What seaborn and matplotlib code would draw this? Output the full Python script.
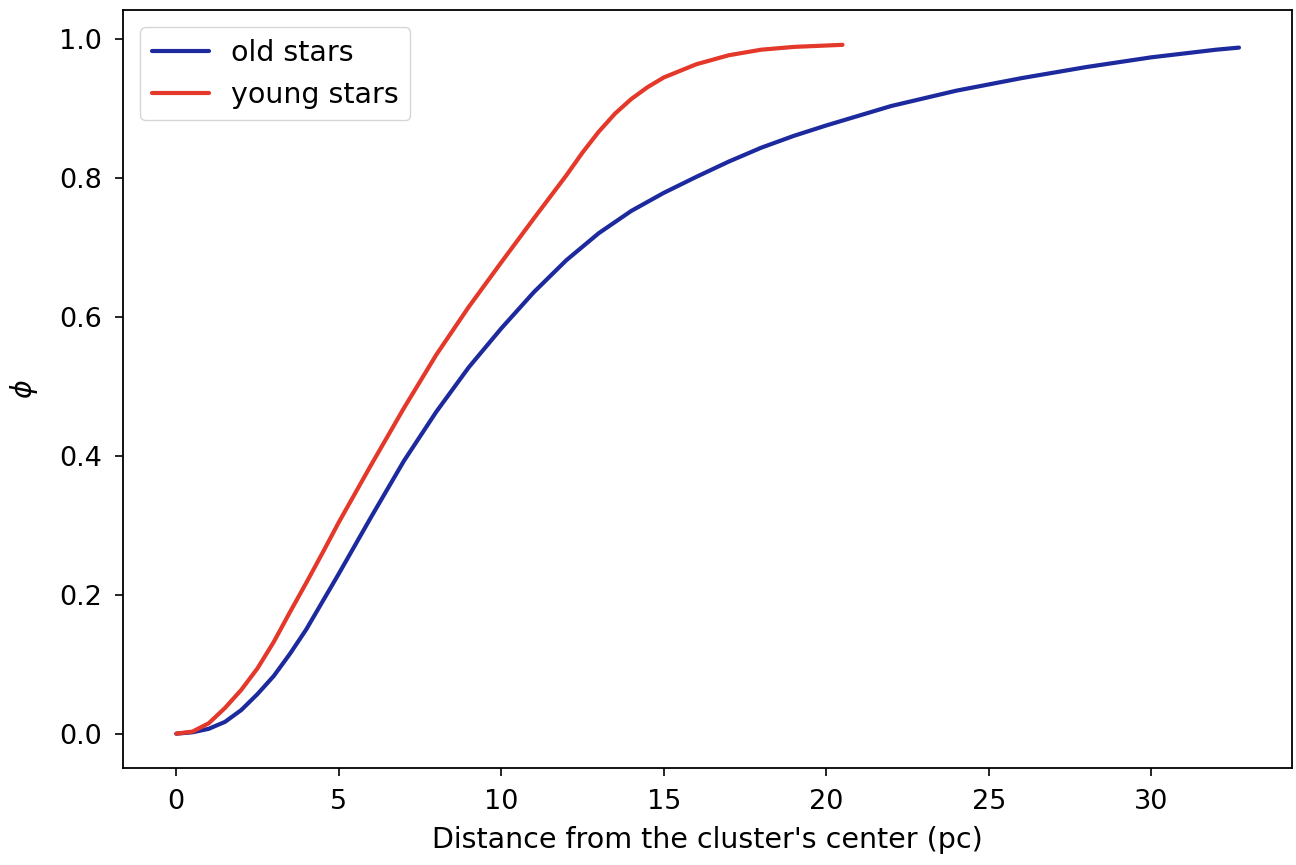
import numpy as np
import pandas as pd
import matplotlib
matplotlib.use("Agg")
import matplotlib.pyplot as plt
import seaborn as sns

# ================================
# data
# ================================
old_x = [0, 0.5, 1, 1.5, 2, 2.5, 3, 3.5, 4, 4.5, 5, 6, 7, 8, 9, 10, 11, 12, 13,
         14, 15, 16, 17, 18, 19, 20, 22, 24, 26, 28, 30, 32, 32.7]
old_phi = [0, 0.002, 0.007, 0.017, 0.034, 0.057, 0.083, 0.115, 0.15, 0.19, 0.23,
           0.312, 0.392, 0.463, 0.527, 0.583, 0.635, 0.681, 0.72, 0.752, 0.778, 0.801,
           0.823, 0.843, 0.86, 0.875, 0.903, 0.925, 0.943, 0.959, 0.973, 0.984, 0.987]

young_x = [0, 0.5, 1, 1.5, 2, 2.5, 3, 3.5, 4, 4.5, 5, 6, 7, 8, 9, 10, 11, 12, 12.5,
           13, 13.5, 14, 14.5, 15, 16, 17, 18, 19, 20, 20.5]
young_phi = [0, 0.003, 0.015, 0.037, 0.063, 0.094, 0.132, 0.175, 0.217, 0.26, 0.304,
             0.387, 0.468, 0.545, 0.614, 0.678, 0.741, 0.803, 0.836, 0.866, 0.892, 0.913,
             0.93, 0.944, 0.963, 0.976, 0.984, 0.988, 0.99, 0.991]

labels = ["old stars", "young stars"]
colors = {"old stars": "#1c2a9e", "young stars": "#e4382a"}

df = pd.concat([
    pd.DataFrame({"dist": old_x, "phi": old_phi, "group": labels[0]}),
    pd.DataFrame({"dist": young_x, "phi": young_phi, "group": labels[1]}),
])

sns.set_style("ticks")
plt.rcParams["font.family"] = ["DejaVu Sans"]
plt.rcParams["text.color"] = "black"
plt.rcParams["axes.labelcolor"] = "black"
plt.rcParams["xtick.color"] = "black"
plt.rcParams["ytick.color"] = "black"

fig, ax = plt.subplots(figsize=(12.96, 8.65), dpi=100)
fig.subplots_adjust(left=0.095, right=0.997, top=0.988, bottom=0.112)

sns.lineplot(data=df, x="dist", y="phi", hue="group", palette=colors,
             sort=False, estimator=None, linewidth=3, ax=ax)

ax.set_xlabel("Distance from the cluster's center (pc)", fontsize=20.5, labelpad=8)
ax.set_ylabel(r"$\phi$", fontsize=20.5, labelpad=14)
ax.tick_params(labelsize=19.5, length=6, width=1.2, pad=9)
for s in ax.spines.values():
    s.set_linewidth(1.3)
    s.set_color("black")

ax.set_yticks([0.0, 0.2, 0.4, 0.6, 0.8, 1.0])
ax.set_xticks([0, 5, 10, 15, 20, 25, 30])

leg = ax.legend(loc="upper left", fontsize=20.5, frameon=True, borderaxespad=0.6)
leg.set_title(None)

fig.savefig("out.png", dpi=100)
